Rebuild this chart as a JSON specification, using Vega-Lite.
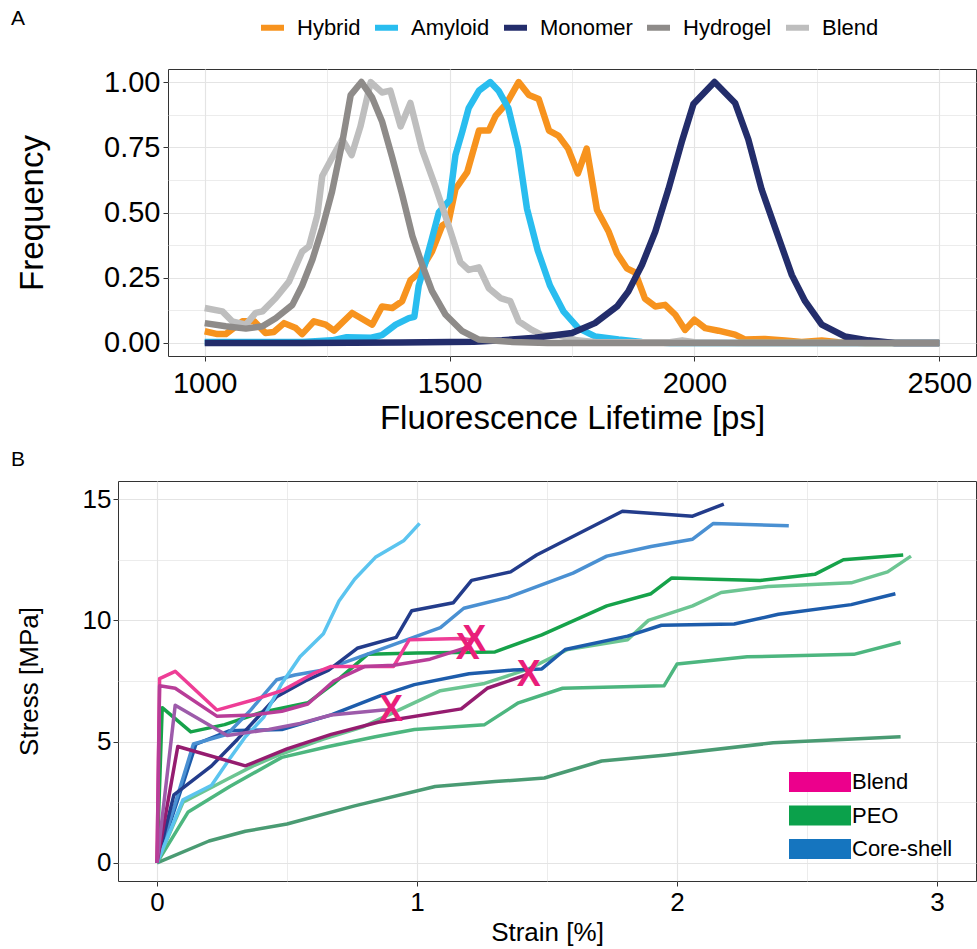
{
  "$schema": "https://vega.github.io/schema/vega-lite/v6.json",
  "background": "white",
  "padding": {"left": 9, "top": 7, "right": 0, "bottom": 0},
  "columns": 2,
  "align": "none",
  "spacing": {"row": 12, "column": 0},
  "resolve": {"scale": {"color": "independent", "fill": "independent", "stroke": "independent"}},
  "config": {
    "font": "Liberation Sans",
    "view": {"stroke": "#333333", "strokeWidth": 1},
    "axis": {
      "domain": false,
      "gridColor": "#E4E4E4",
      "tickColor": "#333333",
      "tickSize": 5,
      "labelColor": "#000000",
      "titleColor": "#000000",
      "titleFontWeight": "normal",
      "labelFont": "Liberation Sans",
      "titleFont": "Liberation Sans"
    },
    "legend": {"labelFont": "Liberation Sans", "labelColor": "#000000"},
    "title": {"font": "Liberation Sans", "fontWeight": "normal", "color": "#000000"}
  },
  "datasets": {
    "fl": [
      {"lifetime": 1000, "frequency": 0.045, "sample": "Hybrid"},
      {"lifetime": 1026, "frequency": 0.034, "sample": "Hybrid"},
      {"lifetime": 1043, "frequency": 0.034, "sample": "Hybrid"},
      {"lifetime": 1077, "frequency": 0.083, "sample": "Hybrid"},
      {"lifetime": 1101, "frequency": 0.083, "sample": "Hybrid"},
      {"lifetime": 1124, "frequency": 0.038, "sample": "Hybrid"},
      {"lifetime": 1141, "frequency": 0.042, "sample": "Hybrid"},
      {"lifetime": 1162, "frequency": 0.076, "sample": "Hybrid"},
      {"lifetime": 1186, "frequency": 0.057, "sample": "Hybrid"},
      {"lifetime": 1199, "frequency": 0.034, "sample": "Hybrid"},
      {"lifetime": 1223, "frequency": 0.083, "sample": "Hybrid"},
      {"lifetime": 1247, "frequency": 0.07, "sample": "Hybrid"},
      {"lifetime": 1264, "frequency": 0.047, "sample": "Hybrid"},
      {"lifetime": 1301, "frequency": 0.115, "sample": "Hybrid"},
      {"lifetime": 1342, "frequency": 0.07, "sample": "Hybrid"},
      {"lifetime": 1362, "frequency": 0.14, "sample": "Hybrid"},
      {"lifetime": 1383, "frequency": 0.134, "sample": "Hybrid"},
      {"lifetime": 1403, "frequency": 0.16, "sample": "Hybrid"},
      {"lifetime": 1420, "frequency": 0.24, "sample": "Hybrid"},
      {"lifetime": 1437, "frequency": 0.267, "sample": "Hybrid"},
      {"lifetime": 1464, "frequency": 0.35, "sample": "Hybrid"},
      {"lifetime": 1485, "frequency": 0.45, "sample": "Hybrid"},
      {"lifetime": 1498, "frequency": 0.465, "sample": "Hybrid"},
      {"lifetime": 1512, "frequency": 0.59, "sample": "Hybrid"},
      {"lifetime": 1536, "frequency": 0.655, "sample": "Hybrid"},
      {"lifetime": 1560, "frequency": 0.814, "sample": "Hybrid"},
      {"lifetime": 1580, "frequency": 0.814, "sample": "Hybrid"},
      {"lifetime": 1594, "frequency": 0.87, "sample": "Hybrid"},
      {"lifetime": 1617, "frequency": 0.92, "sample": "Hybrid"},
      {"lifetime": 1641, "frequency": 1.0, "sample": "Hybrid"},
      {"lifetime": 1662, "frequency": 0.95, "sample": "Hybrid"},
      {"lifetime": 1682, "frequency": 0.935, "sample": "Hybrid"},
      {"lifetime": 1703, "frequency": 0.814, "sample": "Hybrid"},
      {"lifetime": 1722, "frequency": 0.795, "sample": "Hybrid"},
      {"lifetime": 1742, "frequency": 0.745, "sample": "Hybrid"},
      {"lifetime": 1762, "frequency": 0.65, "sample": "Hybrid"},
      {"lifetime": 1780, "frequency": 0.745, "sample": "Hybrid"},
      {"lifetime": 1801, "frequency": 0.51, "sample": "Hybrid"},
      {"lifetime": 1825, "frequency": 0.426, "sample": "Hybrid"},
      {"lifetime": 1842, "frequency": 0.343, "sample": "Hybrid"},
      {"lifetime": 1862, "frequency": 0.286, "sample": "Hybrid"},
      {"lifetime": 1879, "frequency": 0.27, "sample": "Hybrid"},
      {"lifetime": 1899, "frequency": 0.17, "sample": "Hybrid"},
      {"lifetime": 1920, "frequency": 0.14, "sample": "Hybrid"},
      {"lifetime": 1940, "frequency": 0.146, "sample": "Hybrid"},
      {"lifetime": 1961, "frequency": 0.108, "sample": "Hybrid"},
      {"lifetime": 1981, "frequency": 0.05, "sample": "Hybrid"},
      {"lifetime": 2000, "frequency": 0.089, "sample": "Hybrid"},
      {"lifetime": 2022, "frequency": 0.057, "sample": "Hybrid"},
      {"lifetime": 2049, "frequency": 0.047, "sample": "Hybrid"},
      {"lifetime": 2083, "frequency": 0.032, "sample": "Hybrid"},
      {"lifetime": 2104, "frequency": 0.013, "sample": "Hybrid"},
      {"lifetime": 2144, "frequency": 0.015, "sample": "Hybrid"},
      {"lifetime": 2185, "frequency": 0.009, "sample": "Hybrid"},
      {"lifetime": 2219, "frequency": 0.004, "sample": "Hybrid"},
      {"lifetime": 2260, "frequency": 0.009, "sample": "Hybrid"},
      {"lifetime": 2294, "frequency": 0.003, "sample": "Hybrid"},
      {"lifetime": 2350, "frequency": 0, "sample": "Hybrid"},
      {"lifetime": 2500, "frequency": 0, "sample": "Hybrid"},

      {"lifetime": 1000, "frequency": 0.004, "sample": "Amyloid"},
      {"lifetime": 1100, "frequency": 0.004, "sample": "Amyloid"},
      {"lifetime": 1200, "frequency": 0.004, "sample": "Amyloid"},
      {"lifetime": 1260, "frequency": 0.01, "sample": "Amyloid"},
      {"lifetime": 1290, "frequency": 0.022, "sample": "Amyloid"},
      {"lifetime": 1340, "frequency": 0.02, "sample": "Amyloid"},
      {"lifetime": 1362, "frequency": 0.03, "sample": "Amyloid"},
      {"lifetime": 1390, "frequency": 0.07, "sample": "Amyloid"},
      {"lifetime": 1417, "frequency": 0.095, "sample": "Amyloid"},
      {"lifetime": 1428, "frequency": 0.1, "sample": "Amyloid"},
      {"lifetime": 1437, "frequency": 0.22, "sample": "Amyloid"},
      {"lifetime": 1451, "frequency": 0.31, "sample": "Amyloid"},
      {"lifetime": 1464, "frequency": 0.4, "sample": "Amyloid"},
      {"lifetime": 1478, "frequency": 0.5, "sample": "Amyloid"},
      {"lifetime": 1500, "frequency": 0.547, "sample": "Amyloid"},
      {"lifetime": 1512, "frequency": 0.72, "sample": "Amyloid"},
      {"lifetime": 1526, "frequency": 0.81, "sample": "Amyloid"},
      {"lifetime": 1539, "frequency": 0.9, "sample": "Amyloid"},
      {"lifetime": 1560, "frequency": 0.967, "sample": "Amyloid"},
      {"lifetime": 1583, "frequency": 1.0, "sample": "Amyloid"},
      {"lifetime": 1600, "frequency": 0.967, "sample": "Amyloid"},
      {"lifetime": 1620, "frequency": 0.9, "sample": "Amyloid"},
      {"lifetime": 1640, "frequency": 0.745, "sample": "Amyloid"},
      {"lifetime": 1658, "frequency": 0.515, "sample": "Amyloid"},
      {"lifetime": 1680, "frequency": 0.355, "sample": "Amyloid"},
      {"lifetime": 1705, "frequency": 0.22, "sample": "Amyloid"},
      {"lifetime": 1733, "frequency": 0.12, "sample": "Amyloid"},
      {"lifetime": 1763, "frequency": 0.057, "sample": "Amyloid"},
      {"lifetime": 1797, "frequency": 0.025, "sample": "Amyloid"},
      {"lifetime": 1845, "frequency": 0.013, "sample": "Amyloid"},
      {"lifetime": 1893, "frequency": 0.004, "sample": "Amyloid"},
      {"lifetime": 1950, "frequency": 0, "sample": "Amyloid"},
      {"lifetime": 2500, "frequency": 0, "sample": "Amyloid"},

      {"lifetime": 1000, "frequency": 0.134, "sample": "Blend"},
      {"lifetime": 1036, "frequency": 0.121, "sample": "Blend"},
      {"lifetime": 1056, "frequency": 0.083, "sample": "Blend"},
      {"lifetime": 1084, "frequency": 0.07, "sample": "Blend"},
      {"lifetime": 1104, "frequency": 0.115, "sample": "Blend"},
      {"lifetime": 1118, "frequency": 0.121, "sample": "Blend"},
      {"lifetime": 1145, "frequency": 0.172, "sample": "Blend"},
      {"lifetime": 1172, "frequency": 0.235, "sample": "Blend"},
      {"lifetime": 1199, "frequency": 0.35, "sample": "Blend"},
      {"lifetime": 1213, "frequency": 0.37, "sample": "Blend"},
      {"lifetime": 1230, "frequency": 0.49, "sample": "Blend"},
      {"lifetime": 1240, "frequency": 0.64, "sample": "Blend"},
      {"lifetime": 1260, "frequency": 0.71, "sample": "Blend"},
      {"lifetime": 1281, "frequency": 0.78, "sample": "Blend"},
      {"lifetime": 1300, "frequency": 0.72, "sample": "Blend"},
      {"lifetime": 1318, "frequency": 0.83, "sample": "Blend"},
      {"lifetime": 1339, "frequency": 1.0, "sample": "Blend"},
      {"lifetime": 1362, "frequency": 0.96, "sample": "Blend"},
      {"lifetime": 1379, "frequency": 0.967, "sample": "Blend"},
      {"lifetime": 1400, "frequency": 0.83, "sample": "Blend"},
      {"lifetime": 1420, "frequency": 0.92, "sample": "Blend"},
      {"lifetime": 1444, "frequency": 0.74, "sample": "Blend"},
      {"lifetime": 1471, "frequency": 0.6, "sample": "Blend"},
      {"lifetime": 1498, "frequency": 0.45, "sample": "Blend"},
      {"lifetime": 1522, "frequency": 0.31, "sample": "Blend"},
      {"lifetime": 1539, "frequency": 0.28, "sample": "Blend"},
      {"lifetime": 1560, "frequency": 0.29, "sample": "Blend"},
      {"lifetime": 1580, "frequency": 0.21, "sample": "Blend"},
      {"lifetime": 1604, "frequency": 0.172, "sample": "Blend"},
      {"lifetime": 1624, "frequency": 0.16, "sample": "Blend"},
      {"lifetime": 1641, "frequency": 0.083, "sample": "Blend"},
      {"lifetime": 1668, "frequency": 0.05, "sample": "Blend"},
      {"lifetime": 1689, "frequency": 0.03, "sample": "Blend"},
      {"lifetime": 1722, "frequency": 0.03, "sample": "Blend"},
      {"lifetime": 1760, "frequency": 0.01, "sample": "Blend"},
      {"lifetime": 1800, "frequency": 0.003, "sample": "Blend"},
      {"lifetime": 1950, "frequency": 0.003, "sample": "Blend"},
      {"lifetime": 1975, "frequency": 0.01, "sample": "Blend"},
      {"lifetime": 2000, "frequency": 0.003, "sample": "Blend"},
      {"lifetime": 2100, "frequency": 0, "sample": "Blend"},
      {"lifetime": 2500, "frequency": 0, "sample": "Blend"},

      {"lifetime": 1000, "frequency": 0, "sample": "Monomer"},
      {"lifetime": 1200, "frequency": 0, "sample": "Monomer"},
      {"lifetime": 1400, "frequency": 0.002, "sample": "Monomer"},
      {"lifetime": 1550, "frequency": 0.005, "sample": "Monomer"},
      {"lifetime": 1607, "frequency": 0.01, "sample": "Monomer"},
      {"lifetime": 1675, "frequency": 0.02, "sample": "Monomer"},
      {"lifetime": 1750, "frequency": 0.038, "sample": "Monomer"},
      {"lifetime": 1797, "frequency": 0.076, "sample": "Monomer"},
      {"lifetime": 1842, "frequency": 0.14, "sample": "Monomer"},
      {"lifetime": 1865, "frequency": 0.197, "sample": "Monomer"},
      {"lifetime": 1893, "frequency": 0.3, "sample": "Monomer"},
      {"lifetime": 1920, "frequency": 0.426, "sample": "Monomer"},
      {"lifetime": 1947, "frequency": 0.59, "sample": "Monomer"},
      {"lifetime": 1974, "frequency": 0.77, "sample": "Monomer"},
      {"lifetime": 1998, "frequency": 0.916, "sample": "Monomer"},
      {"lifetime": 2041, "frequency": 1.0, "sample": "Monomer"},
      {"lifetime": 2083, "frequency": 0.92, "sample": "Monomer"},
      {"lifetime": 2110, "frequency": 0.78, "sample": "Monomer"},
      {"lifetime": 2137, "frequency": 0.59, "sample": "Monomer"},
      {"lifetime": 2165, "frequency": 0.44, "sample": "Monomer"},
      {"lifetime": 2199, "frequency": 0.26, "sample": "Monomer"},
      {"lifetime": 2226, "frequency": 0.16, "sample": "Monomer"},
      {"lifetime": 2260, "frequency": 0.07, "sample": "Monomer"},
      {"lifetime": 2307, "frequency": 0.025, "sample": "Monomer"},
      {"lifetime": 2355, "frequency": 0.01, "sample": "Monomer"},
      {"lifetime": 2409, "frequency": 0, "sample": "Monomer"},
      {"lifetime": 2500, "frequency": 0, "sample": "Monomer"},

      {"lifetime": 1000, "frequency": 0.076, "sample": "Hydrogel"},
      {"lifetime": 1043, "frequency": 0.064, "sample": "Hydrogel"},
      {"lifetime": 1084, "frequency": 0.055, "sample": "Hydrogel"},
      {"lifetime": 1118, "frequency": 0.064, "sample": "Hydrogel"},
      {"lifetime": 1145, "frequency": 0.095, "sample": "Hydrogel"},
      {"lifetime": 1179, "frequency": 0.146, "sample": "Hydrogel"},
      {"lifetime": 1199, "frequency": 0.22, "sample": "Hydrogel"},
      {"lifetime": 1220, "frequency": 0.32, "sample": "Hydrogel"},
      {"lifetime": 1240, "frequency": 0.44, "sample": "Hydrogel"},
      {"lifetime": 1260, "frequency": 0.58, "sample": "Hydrogel"},
      {"lifetime": 1281, "frequency": 0.77, "sample": "Hydrogel"},
      {"lifetime": 1298, "frequency": 0.95, "sample": "Hydrogel"},
      {"lifetime": 1320, "frequency": 1.0, "sample": "Hydrogel"},
      {"lifetime": 1342, "frequency": 0.94, "sample": "Hydrogel"},
      {"lifetime": 1362, "frequency": 0.85, "sample": "Hydrogel"},
      {"lifetime": 1383, "frequency": 0.71, "sample": "Hydrogel"},
      {"lifetime": 1403, "frequency": 0.57, "sample": "Hydrogel"},
      {"lifetime": 1424, "frequency": 0.41, "sample": "Hydrogel"},
      {"lifetime": 1444, "frequency": 0.3, "sample": "Hydrogel"},
      {"lifetime": 1464, "frequency": 0.2, "sample": "Hydrogel"},
      {"lifetime": 1492, "frequency": 0.108, "sample": "Hydrogel"},
      {"lifetime": 1526, "frequency": 0.045, "sample": "Hydrogel"},
      {"lifetime": 1560, "frequency": 0.013, "sample": "Hydrogel"},
      {"lifetime": 1628, "frequency": 0.004, "sample": "Hydrogel"},
      {"lifetime": 1700, "frequency": 0, "sample": "Hydrogel"},
      {"lifetime": 2500, "frequency": 0, "sample": "Hydrogel"}
    ],
    "ss": [
      {"strain": 0, "stress": 0, "curve": "PEO 4", "group": "PEO"},
      {"strain": 0.2, "stress": 0.9, "curve": "PEO 4", "group": "PEO"},
      {"strain": 0.34, "stress": 1.3, "curve": "PEO 4", "group": "PEO"},
      {"strain": 0.5, "stress": 1.6, "curve": "PEO 4", "group": "PEO"},
      {"strain": 0.76, "stress": 2.35, "curve": "PEO 4", "group": "PEO"},
      {"strain": 1.07, "stress": 3.15, "curve": "PEO 4", "group": "PEO"},
      {"strain": 1.3, "stress": 3.35, "curve": "PEO 4", "group": "PEO"},
      {"strain": 1.49, "stress": 3.5, "curve": "PEO 4", "group": "PEO"},
      {"strain": 1.71, "stress": 4.2, "curve": "PEO 4", "group": "PEO"},
      {"strain": 1.96, "stress": 4.45, "curve": "PEO 4", "group": "PEO"},
      {"strain": 2.37, "stress": 4.95, "curve": "PEO 4", "group": "PEO"},
      {"strain": 2.86, "stress": 5.2, "curve": "PEO 4", "group": "PEO"},

      {"strain": 0, "stress": 0, "curve": "PEO 3", "group": "PEO"},
      {"strain": 0.12, "stress": 2.1, "curve": "PEO 3", "group": "PEO"},
      {"strain": 0.28, "stress": 3.15, "curve": "PEO 3", "group": "PEO"},
      {"strain": 0.48, "stress": 4.35, "curve": "PEO 3", "group": "PEO"},
      {"strain": 0.66, "stress": 4.8, "curve": "PEO 3", "group": "PEO"},
      {"strain": 0.84, "stress": 5.2, "curve": "PEO 3", "group": "PEO"},
      {"strain": 0.99, "stress": 5.5, "curve": "PEO 3", "group": "PEO"},
      {"strain": 1.26, "stress": 5.7, "curve": "PEO 3", "group": "PEO"},
      {"strain": 1.39, "stress": 6.6, "curve": "PEO 3", "group": "PEO"},
      {"strain": 1.56, "stress": 7.2, "curve": "PEO 3", "group": "PEO"},
      {"strain": 1.95, "stress": 7.3, "curve": "PEO 3", "group": "PEO"},
      {"strain": 2.0, "stress": 8.2, "curve": "PEO 3", "group": "PEO"},
      {"strain": 2.27, "stress": 8.5, "curve": "PEO 3", "group": "PEO"},
      {"strain": 2.68, "stress": 8.6, "curve": "PEO 3", "group": "PEO"},
      {"strain": 2.86, "stress": 9.1, "curve": "PEO 3", "group": "PEO"},

      {"strain": 0, "stress": 0, "curve": "PEO 2", "group": "PEO"},
      {"strain": 0.1, "stress": 2.5, "curve": "PEO 2", "group": "PEO"},
      {"strain": 0.27, "stress": 3.45, "curve": "PEO 2", "group": "PEO"},
      {"strain": 0.37, "stress": 4.0, "curve": "PEO 2", "group": "PEO"},
      {"strain": 0.48, "stress": 4.5, "curve": "PEO 2", "group": "PEO"},
      {"strain": 0.64, "stress": 5.1, "curve": "PEO 2", "group": "PEO"},
      {"strain": 0.79, "stress": 5.6, "curve": "PEO 2", "group": "PEO"},
      {"strain": 0.96, "stress": 6.45, "curve": "PEO 2", "group": "PEO"},
      {"strain": 1.09, "stress": 7.1, "curve": "PEO 2", "group": "PEO"},
      {"strain": 1.26, "stress": 7.4, "curve": "PEO 2", "group": "PEO"},
      {"strain": 1.43, "stress": 8.0, "curve": "PEO 2", "group": "PEO"},
      {"strain": 1.58, "stress": 8.8, "curve": "PEO 2", "group": "PEO"},
      {"strain": 1.81, "stress": 9.2, "curve": "PEO 2", "group": "PEO"},
      {"strain": 1.89, "stress": 10.0, "curve": "PEO 2", "group": "PEO"},
      {"strain": 2.06, "stress": 10.6, "curve": "PEO 2", "group": "PEO"},
      {"strain": 2.17, "stress": 11.15, "curve": "PEO 2", "group": "PEO"},
      {"strain": 2.35, "stress": 11.4, "curve": "PEO 2", "group": "PEO"},
      {"strain": 2.67, "stress": 11.55, "curve": "PEO 2", "group": "PEO"},
      {"strain": 2.81, "stress": 12.0, "curve": "PEO 2", "group": "PEO"},
      {"strain": 2.9, "stress": 12.65, "curve": "PEO 2", "group": "PEO"},

      {"strain": 0, "stress": 0, "curve": "PEO 1", "group": "PEO"},
      {"strain": 0.02, "stress": 6.4, "curve": "PEO 1", "group": "PEO"},
      {"strain": 0.13, "stress": 5.4, "curve": "PEO 1", "group": "PEO"},
      {"strain": 0.26, "stress": 5.7, "curve": "PEO 1", "group": "PEO"},
      {"strain": 0.4, "stress": 6.2, "curve": "PEO 1", "group": "PEO"},
      {"strain": 0.58, "stress": 6.6, "curve": "PEO 1", "group": "PEO"},
      {"strain": 0.68, "stress": 7.4, "curve": "PEO 1", "group": "PEO"},
      {"strain": 0.81, "stress": 8.6, "curve": "PEO 1", "group": "PEO"},
      {"strain": 1.0, "stress": 8.65, "curve": "PEO 1", "group": "PEO"},
      {"strain": 1.3, "stress": 8.7, "curve": "PEO 1", "group": "PEO"},
      {"strain": 1.48, "stress": 9.4, "curve": "PEO 1", "group": "PEO"},
      {"strain": 1.73, "stress": 10.6, "curve": "PEO 1", "group": "PEO"},
      {"strain": 1.9, "stress": 11.1, "curve": "PEO 1", "group": "PEO"},
      {"strain": 1.98, "stress": 11.75, "curve": "PEO 1", "group": "PEO"},
      {"strain": 2.14, "stress": 11.7, "curve": "PEO 1", "group": "PEO"},
      {"strain": 2.32, "stress": 11.65, "curve": "PEO 1", "group": "PEO"},
      {"strain": 2.53, "stress": 11.9, "curve": "PEO 1", "group": "PEO"},
      {"strain": 2.64, "stress": 12.5, "curve": "PEO 1", "group": "PEO"},
      {"strain": 2.87, "stress": 12.7, "curve": "PEO 1", "group": "PEO"},

      {"strain": 0, "stress": 0, "curve": "Core-shell 3", "group": "Core-shell"},
      {"strain": 0.15, "stress": 4.9, "curve": "Core-shell 3", "group": "Core-shell"},
      {"strain": 0.28, "stress": 5.45, "curve": "Core-shell 3", "group": "Core-shell"},
      {"strain": 0.48, "stress": 5.5, "curve": "Core-shell 3", "group": "Core-shell"},
      {"strain": 0.67, "stress": 6.1, "curve": "Core-shell 3", "group": "Core-shell"},
      {"strain": 0.86, "stress": 6.9, "curve": "Core-shell 3", "group": "Core-shell"},
      {"strain": 0.99, "stress": 7.35, "curve": "Core-shell 3", "group": "Core-shell"},
      {"strain": 1.2, "stress": 7.8, "curve": "Core-shell 3", "group": "Core-shell"},
      {"strain": 1.37, "stress": 7.95, "curve": "Core-shell 3", "group": "Core-shell"},
      {"strain": 1.48, "stress": 8.0, "curve": "Core-shell 3", "group": "Core-shell"},
      {"strain": 1.57, "stress": 8.8, "curve": "Core-shell 3", "group": "Core-shell"},
      {"strain": 1.81, "stress": 9.35, "curve": "Core-shell 3", "group": "Core-shell"},
      {"strain": 1.94, "stress": 9.8, "curve": "Core-shell 3", "group": "Core-shell"},
      {"strain": 2.22, "stress": 9.85, "curve": "Core-shell 3", "group": "Core-shell"},
      {"strain": 2.39, "stress": 10.25, "curve": "Core-shell 3", "group": "Core-shell"},
      {"strain": 2.67, "stress": 10.65, "curve": "Core-shell 3", "group": "Core-shell"},
      {"strain": 2.84, "stress": 11.1, "curve": "Core-shell 3", "group": "Core-shell"},

      {"strain": 0, "stress": 0, "curve": "Core-shell 2", "group": "Core-shell"},
      {"strain": 0.14, "stress": 4.9, "curve": "Core-shell 2", "group": "Core-shell"},
      {"strain": 0.27, "stress": 5.3, "curve": "Core-shell 2", "group": "Core-shell"},
      {"strain": 0.36, "stress": 6.3, "curve": "Core-shell 2", "group": "Core-shell"},
      {"strain": 0.46, "stress": 7.55, "curve": "Core-shell 2", "group": "Core-shell"},
      {"strain": 0.53, "stress": 7.75, "curve": "Core-shell 2", "group": "Core-shell"},
      {"strain": 0.64, "stress": 7.95, "curve": "Core-shell 2", "group": "Core-shell"},
      {"strain": 0.77, "stress": 8.45, "curve": "Core-shell 2", "group": "Core-shell"},
      {"strain": 0.96, "stress": 9.2, "curve": "Core-shell 2", "group": "Core-shell"},
      {"strain": 1.09, "stress": 9.7, "curve": "Core-shell 2", "group": "Core-shell"},
      {"strain": 1.18, "stress": 10.5, "curve": "Core-shell 2", "group": "Core-shell"},
      {"strain": 1.35, "stress": 10.95, "curve": "Core-shell 2", "group": "Core-shell"},
      {"strain": 1.6, "stress": 11.95, "curve": "Core-shell 2", "group": "Core-shell"},
      {"strain": 1.73, "stress": 12.65, "curve": "Core-shell 2", "group": "Core-shell"},
      {"strain": 1.9, "stress": 13.05, "curve": "Core-shell 2", "group": "Core-shell"},
      {"strain": 2.06, "stress": 13.35, "curve": "Core-shell 2", "group": "Core-shell"},
      {"strain": 2.14, "stress": 14.0, "curve": "Core-shell 2", "group": "Core-shell"},
      {"strain": 2.43, "stress": 13.9, "curve": "Core-shell 2", "group": "Core-shell"},

      {"strain": 0, "stress": 0, "curve": "Core-shell 1", "group": "Core-shell"},
      {"strain": 0.065, "stress": 2.8, "curve": "Core-shell 1", "group": "Core-shell"},
      {"strain": 0.21, "stress": 4.0, "curve": "Core-shell 1", "group": "Core-shell"},
      {"strain": 0.31, "stress": 5.1, "curve": "Core-shell 1", "group": "Core-shell"},
      {"strain": 0.46, "stress": 6.85, "curve": "Core-shell 1", "group": "Core-shell"},
      {"strain": 0.57, "stress": 7.5, "curve": "Core-shell 1", "group": "Core-shell"},
      {"strain": 0.66, "stress": 7.95, "curve": "Core-shell 1", "group": "Core-shell"},
      {"strain": 0.77, "stress": 8.85, "curve": "Core-shell 1", "group": "Core-shell"},
      {"strain": 0.92, "stress": 9.3, "curve": "Core-shell 1", "group": "Core-shell"},
      {"strain": 0.98, "stress": 10.4, "curve": "Core-shell 1", "group": "Core-shell"},
      {"strain": 1.14, "stress": 10.73, "curve": "Core-shell 1", "group": "Core-shell"},
      {"strain": 1.21, "stress": 11.65, "curve": "Core-shell 1", "group": "Core-shell"},
      {"strain": 1.36, "stress": 12.0, "curve": "Core-shell 1", "group": "Core-shell"},
      {"strain": 1.46, "stress": 12.7, "curve": "Core-shell 1", "group": "Core-shell"},
      {"strain": 1.79, "stress": 14.5, "curve": "Core-shell 1", "group": "Core-shell"},
      {"strain": 2.06, "stress": 14.3, "curve": "Core-shell 1", "group": "Core-shell"},
      {"strain": 2.18, "stress": 14.8, "curve": "Core-shell 1", "group": "Core-shell"},

      {"strain": 0, "stress": 0, "curve": "Core-shell 4", "group": "Core-shell"},
      {"strain": 0.1, "stress": 2.6, "curve": "Core-shell 4", "group": "Core-shell"},
      {"strain": 0.21, "stress": 3.2, "curve": "Core-shell 4", "group": "Core-shell"},
      {"strain": 0.28, "stress": 4.3, "curve": "Core-shell 4", "group": "Core-shell"},
      {"strain": 0.34, "stress": 5.2, "curve": "Core-shell 4", "group": "Core-shell"},
      {"strain": 0.41, "stress": 6.0, "curve": "Core-shell 4", "group": "Core-shell"},
      {"strain": 0.48, "stress": 7.4, "curve": "Core-shell 4", "group": "Core-shell"},
      {"strain": 0.55, "stress": 8.5, "curve": "Core-shell 4", "group": "Core-shell"},
      {"strain": 0.64, "stress": 9.45, "curve": "Core-shell 4", "group": "Core-shell"},
      {"strain": 0.7, "stress": 10.8, "curve": "Core-shell 4", "group": "Core-shell"},
      {"strain": 0.76, "stress": 11.7, "curve": "Core-shell 4", "group": "Core-shell"},
      {"strain": 0.84, "stress": 12.6, "curve": "Core-shell 4", "group": "Core-shell"},
      {"strain": 0.95, "stress": 13.3, "curve": "Core-shell 4", "group": "Core-shell"},
      {"strain": 1.01, "stress": 14.0, "curve": "Core-shell 4", "group": "Core-shell"},

      {"strain": 0, "stress": 0, "curve": "Blend 1", "group": "Blend"},
      {"strain": 0.01, "stress": 7.6, "curve": "Blend 1", "group": "Blend"},
      {"strain": 0.07, "stress": 7.9, "curve": "Blend 1", "group": "Blend"},
      {"strain": 0.23, "stress": 6.3, "curve": "Blend 1", "group": "Blend"},
      {"strain": 0.38, "stress": 6.75, "curve": "Blend 1", "group": "Blend"},
      {"strain": 0.48, "stress": 7.1, "curve": "Blend 1", "group": "Blend"},
      {"strain": 0.6, "stress": 7.8, "curve": "Blend 1", "group": "Blend"},
      {"strain": 0.67, "stress": 8.1, "curve": "Blend 1", "group": "Blend"},
      {"strain": 0.78, "stress": 8.1, "curve": "Blend 1", "group": "Blend"},
      {"strain": 0.91, "stress": 8.1, "curve": "Blend 1", "group": "Blend"},
      {"strain": 0.97, "stress": 9.2, "curve": "Blend 1", "group": "Blend"},
      {"strain": 1.17, "stress": 9.25, "curve": "Blend 1", "group": "Blend"},
      {"strain": 1.21, "stress": 9.2, "curve": "Blend 1", "group": "Blend"},

      {"strain": 0, "stress": 0, "curve": "Blend 4", "group": "Blend"},
      {"strain": 0.08, "stress": 4.8, "curve": "Blend 4", "group": "Blend"},
      {"strain": 0.34, "stress": 4.0, "curve": "Blend 4", "group": "Blend"},
      {"strain": 0.5, "stress": 4.7, "curve": "Blend 4", "group": "Blend"},
      {"strain": 0.67, "stress": 5.3, "curve": "Blend 4", "group": "Blend"},
      {"strain": 0.85, "stress": 5.8, "curve": "Blend 4", "group": "Blend"},
      {"strain": 1.17, "stress": 6.35, "curve": "Blend 4", "group": "Blend"},
      {"strain": 1.27, "stress": 7.2, "curve": "Blend 4", "group": "Blend"},
      {"strain": 1.42, "stress": 7.75, "curve": "Blend 4", "group": "Blend"},

      {"strain": 0, "stress": 0, "curve": "Blend 3", "group": "Blend"},
      {"strain": 0.07, "stress": 6.5, "curve": "Blend 3", "group": "Blend"},
      {"strain": 0.27, "stress": 5.25, "curve": "Blend 3", "group": "Blend"},
      {"strain": 0.43, "stress": 5.5, "curve": "Blend 3", "group": "Blend"},
      {"strain": 0.55, "stress": 5.75, "curve": "Blend 3", "group": "Blend"},
      {"strain": 0.67, "stress": 6.1, "curve": "Blend 3", "group": "Blend"},
      {"strain": 0.87, "stress": 6.3, "curve": "Blend 3", "group": "Blend"},
      {"strain": 0.9, "stress": 6.3, "curve": "Blend 3", "group": "Blend"},

      {"strain": 0, "stress": 0, "curve": "Blend 2", "group": "Blend"},
      {"strain": 0.01, "stress": 7.3, "curve": "Blend 2", "group": "Blend"},
      {"strain": 0.07, "stress": 7.2, "curve": "Blend 2", "group": "Blend"},
      {"strain": 0.23, "stress": 6.05, "curve": "Blend 2", "group": "Blend"},
      {"strain": 0.37, "stress": 6.1, "curve": "Blend 2", "group": "Blend"},
      {"strain": 0.48, "stress": 6.25, "curve": "Blend 2", "group": "Blend"},
      {"strain": 0.58, "stress": 6.55, "curve": "Blend 2", "group": "Blend"},
      {"strain": 0.68, "stress": 7.5, "curve": "Blend 2", "group": "Blend"},
      {"strain": 0.8, "stress": 8.1, "curve": "Blend 2", "group": "Blend"},
      {"strain": 0.91, "stress": 8.15, "curve": "Blend 2", "group": "Blend"},
      {"strain": 1.05, "stress": 8.4, "curve": "Blend 2", "group": "Blend"},
      {"strain": 1.195, "stress": 8.9, "curve": "Blend 2", "group": "Blend"}
    ],
    "xm": [
      {"strain": 1.22, "stress": 9.2},
      {"strain": 1.195, "stress": 8.85},
      {"strain": 0.9, "stress": 6.3},
      {"strain": 1.43, "stress": 7.75}
    ]
  },
  "concat": [
    {
      "width": 1,
      "height": 1,
      "view": {"stroke": null},
      "data": {"values": []},
      "mark": {"type": "point", "opacity": 0}
    },
    {
      "width": 808,
      "height": 287,
      "title": {"text": "A", "anchor": "start", "frame": "group", "dx": -157, "offset": -16, "fontSize": 21},
      "data": {"name": "fl"},
      "mark": {"type": "line", "strokeWidth": 6.5, "strokeJoin": "round"},
      "encoding": {
        "x": {
          "field": "lifetime", "type": "quantitative",
          "scale": {"domain": [925, 2575], "nice": false, "zero": false},
          "axis": {
            "title": "Fluorescence Lifetime [ps]",
            "values": [1000, 1250, 1500, 1750, 2000, 2250, 2500],
            "labelExpr": "datum.value % 500 === 0 ? format(datum.value, 'd') : ''",
            "tickOpacity": {"condition": {"test": "datum.value % 500 === 0", "value": 1}, "value": 0},
            "gridWidth": {"condition": {"test": "datum.value % 500 === 0", "value": 1.2}, "value": 0.7},
            "labelFontSize": 29,
            "titleFontSize": 33,
            "labelPadding": 8,
            "titlePadding": 4,
            "labelFlush": false,
            "labelOverlap": false
          }
        },
        "y": {
          "field": "frequency", "type": "quantitative",
          "scale": {"domain": [-0.05, 1.05], "nice": false, "zero": false},
          "axis": {
            "title": "Frequency",
            "values": [0, 0.125, 0.25, 0.375, 0.5, 0.625, 0.75, 0.875, 1],
            "labelExpr": "(datum.value * 4) % 1 === 0 ? format(datum.value, '.2f') : ''",
            "tickOpacity": {"condition": {"test": "(datum.value * 4) % 1 === 0", "value": 1}, "value": 0},
            "gridWidth": {"condition": {"test": "(datum.value * 4) % 1 === 0", "value": 1.2}, "value": 0.7},
            "labelFontSize": 29,
            "titleFontSize": 33,
            "labelPadding": 3,
            "titlePadding": 54,
            "labelFlush": false,
            "labelOverlap": false
          }
        },
        "color": {
          "field": "sample", "type": "nominal",
          "scale": {
            "domain": ["Hybrid", "Amyloid", "Monomer", "Hydrogel", "Blend"],
            "range": ["#F7931E", "#29BDEF", "#232D6B", "#8E8B89", "#BEBEBE"]
          },
          "legend": {
            "orient": "none",
            "legendX": 90,
            "legendY": -56,
            "direction": "horizontal",
            "title": null,
            "symbolType": "stroke",
            "symbolStrokeWidth": 6,
            "symbolSize": 529,
            "labelFontSize": 22,
            "labelOffset": 10,
            "columnPadding": 2
          }
        }
      }
    },
    {
      "width": 1,
      "height": 1,
      "view": {"stroke": null},
      "data": {"values": []},
      "mark": {"type": "point", "opacity": 0}
    },
    {
      "width": 858,
      "height": 400,
      "title": {"text": "B", "anchor": "start", "frame": "group", "dx": -107, "offset": 11, "fontSize": 21},
      "encoding": {
        "x": {
          "field": "strain", "type": "quantitative",
          "scale": {"domain": [-0.15, 3.15], "nice": false, "zero": false},
          "axis": {
            "title": "Strain [%]",
            "values": [0, 0.5, 1, 1.5, 2, 2.5, 3],
            "labelExpr": "datum.value % 1 === 0 ? format(datum.value, 'd') : ''",
            "tickOpacity": {"condition": {"test": "datum.value % 1 === 0", "value": 1}, "value": 0},
            "gridWidth": {"condition": {"test": "datum.value % 1 === 0", "value": 1.2}, "value": 0.7},
            "labelFontSize": 26,
            "titleFontSize": 26,
            "labelPadding": 3,
            "titlePadding": 4,
            "labelFlush": false,
            "labelOverlap": false
          }
        },
        "y": {
          "field": "stress", "type": "quantitative",
          "scale": {"domain": [-0.75, 15.75], "nice": false, "zero": false},
          "axis": {
            "title": "Stress [MPa]",
            "values": [0, 2.5, 5, 7.5, 10, 12.5, 15],
            "labelExpr": "datum.value % 5 === 0 ? format(datum.value, 'd') : ''",
            "tickOpacity": {"condition": {"test": "datum.value % 5 === 0", "value": 1}, "value": 0},
            "gridWidth": {"condition": {"test": "datum.value % 5 === 0", "value": 1.2}, "value": 0.7},
            "labelFontSize": 26,
            "titleFontSize": 26,
            "labelPadding": 2,
            "titlePadding": 40,
            "labelFlush": false,
            "labelOverlap": false
          }
        }
      },
      "layer": [
        {
          "data": {"name": "ss"},
          "mark": {"type": "line", "strokeWidth": 3.5, "strokeJoin": "round"},
          "encoding": {
            "stroke": {
              "field": "curve", "type": "nominal",
              "scale": {
                "domain": ["PEO 4", "PEO 3", "PEO 2", "PEO 1", "Core-shell 3", "Core-shell 2", "Core-shell 1", "Core-shell 4", "Blend 1", "Blend 4", "Blend 3", "Blend 2"],
                "range": ["#4A9B73", "#4DB67F", "#6CC592", "#16A24A", "#1D5CAB", "#4A90D2", "#233C8B", "#5BC4EF", "#EE3D96", "#951C6F", "#9D5BAA", "#B83D98"]
              },
              "legend": null
            }
          }
        },
        {
          "data": {"name": "ss"},
          "mark": {"type": "point", "shape": "square", "filled": true, "opacity": 0},
          "encoding": {
            "fill": {
              "field": "group", "type": "nominal",
              "scale": {"domain": ["Blend", "PEO", "Core-shell"], "range": ["#EC008C", "#0BA14B", "#1575BF"]},
              "legend": {
                "orient": "none",
                "legendX": 670,
                "legendY": 290,
                "title": null,
                "direction": "vertical",
                "symbolType": "M-3.1,-1H3.1V1H-3.1Z",
                "symbolSize": 400,
                "symbolOffset": 21,
                "symbolOpacity": 1,
                "symbolStrokeWidth": 0,
                "labelFontSize": 22,
                "labelOffset": 21,
                "rowPadding": 11.5
              }
            }
          }
        },
        {
          "data": {"name": "xm"},
          "mark": {"type": "text", "text": "X", "fontSize": 36, "fontWeight": "bold", "color": "#E91E7A", "align": "center", "baseline": "middle"}
        }
      ]
    }
  ]
}
